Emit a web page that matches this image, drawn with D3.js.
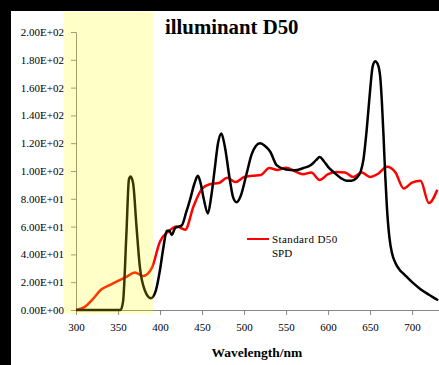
<!DOCTYPE html>
<html>
<head>
<meta charset="utf-8">
<script src="https://cdn.jsdelivr.net/npm/d3@7"></script>
<style>
  html, body { margin: 0; padding: 0; background: #000; }
  svg { display: block; }
</style>
</head>
<body>
<svg id="chart" width="439" height="365"></svg>
<script>
// Standard D50 spectral power distribution (10 nm steps)
const d50Wavelengths = [300,310,320,330,340,350,360,370,380,390,400,410,420,430,440,450,460,470,480,490,500,510,520,530,540,550,560,570,580,590,600,610,620,630,640,650,660,670,680,690,700,710,720,730];
const d50Values = [0.0,2.1,7.8,14.7,17.9,21.0,23.9,27.0,24.5,29.9,49.3,56.5,60.0,57.8,74.8,87.2,90.6,91.4,95.1,92.0,95.7,96.6,97.1,102.1,100.8,102.3,100.0,97.7,98.9,93.5,97.7,99.3,99.0,95.7,98.9,95.7,98.2,103.0,99.1,87.4,91.6,92.9,76.9,86.5];

// Measured lamp spectrum
const lampWavelengths = [300,350,353,356,360,363,365,368,372,376,382,389,395,400,404,408,411,414,418,422,426,431,436,441,445,448,452,457,461,465,469,473,477,483,487,491,496,503,509,514,519,525,531,539,550,560,570,580,586,590,595,600,607,615,622,628,634,639,642,646,650,653,656,659,662,664,666,668,670,673,676,680,685,690,700,710,720,731];
const lampValues = [0,0,0,6,55,94,96,91,60,31,14,8.4,14,29,45,57,57,54,59,60,61,70,80,91,96.5,92,80,69.5,82,101,120,127,118,94,81,77.5,82,98,112,118,120,118,114,104,101,100.5,102,104.5,108,110,107,103,99,95,93,93,95,100,108,130,158,175,179,177,168,150,125,97,74,52,41,34,29,26,20,15,11,7];

const yTicks = [0,20,40,60,80,100,120,140,160,180,200];
const xTicks = [300,350,400,450,500,550,600,650,700];
const uvBand = [285, 392];

const serif = "'Liberation Serif', 'Times New Roman', Times, serif";

const svg = d3.select("#chart");
const W = 439, H = 365;

// frame: black border on top and left
svg.append("rect").attr("x", 0).attr("y", 0).attr("width", W).attr("height", H).attr("fill", "#000");
svg.append("rect").attr("x", 11).attr("y", 11).attr("width", W - 11).attr("height", H - 11).attr("fill", "#fff");

const x = d3.scaleLinear().domain([300, 732]).range([76, 439]);
const y = d3.scaleLinear().domain([0, 200]).range([310, 32]);

const axisColor = "#868686";

// y axis
const yAxis = svg.append("g").attr("transform", `translate(${x(300)},0)`)
  .call(d3.axisLeft(y).tickValues(yTicks).tickSize(5).tickPadding(7)
    .tickFormat(d => d3.format(".2e")(d).replace(/e([+-])(\d)$/, "e$10$2").toUpperCase()));
yAxis.select(".domain").attr("stroke", axisColor);
yAxis.selectAll(".tick line").attr("stroke", axisColor);
yAxis.selectAll("text").style("font-family", serif).style("font-size", "11px").attr("fill", "#000");

// x axis
const xAxis = svg.append("g").attr("transform", `translate(0,${y(0)})`)
  .call(d3.axisBottom(x).tickValues(xTicks).tickSize(5).tickSizeOuter(0).tickPadding(8).tickFormat(d3.format("d")));
xAxis.select(".domain").attr("stroke", axisColor);
xAxis.selectAll(".tick line").attr("stroke", axisColor);
xAxis.selectAll("text").style("font-family", serif).style("font-size", "11px").attr("fill", "#000");

const line = d3.line().curve(d3.curveMonotoneX);

svg.append("path")
  .attr("d", line(d50Wavelengths.map((w, i) => [x(w), y(d50Values[i])])))
  .attr("fill", "none").attr("stroke", "#ff0000").attr("stroke-width", 2.5);

svg.append("path")
  .attr("d", line(lampWavelengths.map((w, i) => [x(w), y(lampValues[i])])))
  .attr("fill", "none").attr("stroke", "#000").attr("stroke-width", 2.5);

// translucent UV band highlight over the lines
svg.append("rect")
  .attr("x", x(uvBand[0])).attr("y", 12)
  .attr("width", x(uvBand[1]) - x(uvBand[0])).attr("height", 302)
  .attr("fill", "#ffff00").attr("fill-opacity", 0.22);

// title
svg.append("text").attr("x", 165).attr("y", 34)
  .style("font-family", serif).style("font-size", "20.8px").style("font-weight", "bold")
  .text("illuminant D50");

// axis title
svg.append("text").attr("x", 257).attr("y", 357).attr("text-anchor", "middle")
  .style("font-family", serif).style("font-size", "13.5px").style("font-weight", "bold")
  .text("Wavelength/nm");

// legend
svg.append("line").attr("x1", 247).attr("x2", 269).attr("y1", 239).attr("y2", 239)
  .attr("stroke", "#ff0000").attr("stroke-width", 2);
svg.append("text").attr("x", 272).attr("y", 242.5)
  .style("font-family", serif).style("font-size", "11px").style("letter-spacing", "0.4px")
  .text("Standard D50");
svg.append("text").attr("x", 272).attr("y", 257)
  .style("font-family", serif).style("font-size", "11px")
  .text("SPD");
</script>
</body>
</html>
